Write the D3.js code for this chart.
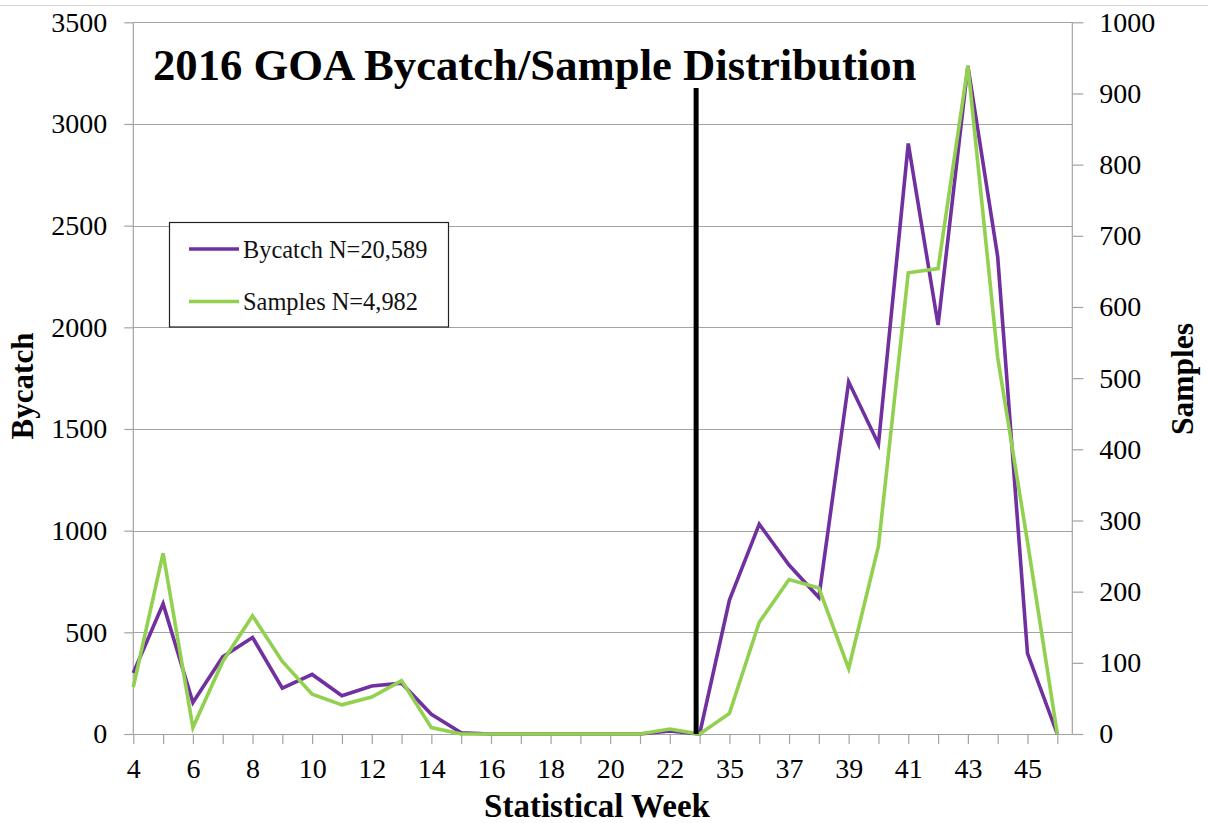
<!DOCTYPE html>
<html>
<head>
<meta charset="utf-8">
<script src="https://cdn.jsdelivr.net/npm/d3@7"></script>
<style>
  html, body { margin: 0; padding: 0; background: #fff; }
  svg { display: block; font-family: "Liberation Serif", "Times New Roman", serif; }
</style>
</head>
<body>
<svg id="chart" width="1208" height="823"></svg>
<script>
// Statistical weeks (the season jumps from week 23 to week 35)
const weeks = ["4","5","6","7","8","9","10","11","12","13","14","15","16","17","18","19","20","21","22","23",
               "35","36","37","38","39","40","41","42","43","44","45","46"];
// Bycatch per week (left axis)
const bycatch = [300, 640, 155, 380, 475, 225, 293, 188, 236, 250, 97, 6, 0, 0, 0, 0, 0, 0, 15, 0,
                 659, 1032, 831, 672, 1732, 1426, 2904, 2011, 3285, 2347, 397, 0];
// Samples per week (right axis)
const samples = [66, 254, 9, 102, 166, 102, 56, 41, 52, 75, 9, 0, 0, 0, 0, 0, 0, 0, 7, 0,
                 29, 157, 217, 205, 92, 264, 648, 654, 939, 529, 270, 0];
const leftTicks = [0, 500, 1000, 1500, 2000, 2500, 3000, 3500];
const rightTicks = [0, 100, 200, 300, 400, 500, 600, 700, 800, 900, 1000];
const seriesNames = ["Bycatch N=20,589", "Samples N=4,982"];
const titleText = "2016 GOA Bycatch/Sample Distribution";
const colors = ["#7030A0", "#92D050"];

const svg = d3.select("#chart");
const plot = { left: 133.3, right: 1072.3, top: 22.3, bottom: 734 };
const gridColor = "#a3a3a3";

const x = d3.scalePoint().domain(weeks).range([133.3, 1057.3]);
const yL = d3.scaleLinear().domain([0, 3500]).range([plot.bottom, plot.top]);
const yR = d3.scaleLinear().domain([0, 1000]).range([plot.bottom, plot.top]);

// thin frame line across the top of the canvas
svg.append("line").attr("x1", 0).attr("x2", 1208).attr("y1", 5.5).attr("y2", 5.5)
  .attr("stroke", "#d4d4d4").attr("stroke-width", 1);

// horizontal gridlines from the bycatch axis
svg.append("g").selectAll("line").data(leftTicks).join("line")
  .attr("x1", plot.left).attr("x2", plot.right)
  .attr("y1", d => Math.round(yL(d)) + 0.5).attr("y2", d => Math.round(yL(d)) + 0.5)
  .attr("stroke", gridColor).attr("stroke-width", 1.2);

// axis lines
svg.append("line").attr("x1", plot.left).attr("x2", plot.left).attr("y1", plot.top).attr("y2", plot.bottom)
  .attr("stroke", gridColor).attr("stroke-width", 1.2);
svg.append("line").attr("x1", plot.right).attr("x2", plot.right).attr("y1", plot.top).attr("y2", plot.bottom)
  .attr("stroke", gridColor).attr("stroke-width", 1.2);

function styleAxis(g) {
  g.select(".domain").remove();
  g.selectAll(".tick line").attr("stroke", gridColor).attr("stroke-width", 1.2);
  g.selectAll(".tick text").attr("fill", "#000").attr("font-size", 28)
    .attr("font-family", "Liberation Serif, Times New Roman, serif");
}

svg.append("g").attr("transform", `translate(${plot.left},0)`)
  .call(d3.axisLeft(yL).tickValues(leftTicks).tickSize(9).tickPadding(17).tickFormat(d3.format("d")))
  .call(styleAxis);

svg.append("g").attr("transform", `translate(${plot.right},0)`)
  .call(d3.axisRight(yR).tickValues(rightTicks).tickSize(11).tickPadding(16).tickFormat(d3.format("d")))
  .call(styleAxis);

svg.append("g").attr("transform", `translate(0,${plot.bottom})`)
  .call(d3.axisBottom(x).tickSize(10).tickPadding(14)
    .tickFormat((d, i) => (i % 2 === 0 ? d : "")))
  .call(styleAxis);

// data lines
const lineL = d3.line().x((d, i) => x(weeks[i])).y(d => yL(d));
const lineR = d3.line().x((d, i) => x(weeks[i])).y(d => yR(d));

svg.append("path").datum(bycatch).attr("d", lineL)
  .attr("fill", "none").attr("stroke", colors[0]).attr("stroke-width", 3.6)
  .attr("stroke-linejoin", "miter").attr("stroke-miterlimit", 4);
svg.append("path").datum(samples).attr("d", lineR)
  .attr("fill", "none").attr("stroke", colors[1]).attr("stroke-width", 3.6)
  .attr("stroke-linejoin", "miter").attr("stroke-miterlimit", 4);

// divider marking the break between week 23 and week 35
svg.append("line")
  .attr("x1", x("23") - 3.5).attr("x2", x("23") - 3.5)
  .attr("y1", 88).attr("y2", plot.bottom)
  .attr("stroke", "#000").attr("stroke-width", 5);

// title
svg.append("text").attr("x", 153).attr("y", 80)
  .attr("font-size", 44.7).attr("font-weight", "bold").attr("fill", "#000")
  .text(titleText);

// axis titles
svg.append("text").attr("transform", "translate(33,386) rotate(-90)")
  .attr("text-anchor", "middle").attr("font-size", 31).attr("font-weight", "bold")
  .text("Bycatch");
svg.append("text").attr("transform", "translate(1193,379) rotate(-90)")
  .attr("text-anchor", "middle").attr("font-size", 31.5).attr("font-weight", "bold")
  .text("Samples");
svg.append("text").attr("x", 597).attr("y", 817)
  .attr("text-anchor", "middle").attr("font-size", 33).attr("font-weight", "bold")
  .text("Statistical Week");

// legend
const legend = svg.append("g");
legend.append("rect").attr("x", 169.5).attr("y", 222.5).attr("width", 279).attr("height", 104.5)
  .attr("fill", "#fff").attr("stroke", "#222").attr("stroke-width", 1.2);
const legendRows = [249, 301.5];
seriesNames.forEach((name, i) => {
  legend.append("line").attr("x1", 189).attr("x2", 239)
    .attr("y1", legendRows[i]).attr("y2", legendRows[i])
    .attr("stroke", colors[i]).attr("stroke-width", 3.6);
  legend.append("text").attr("x", 243).attr("y", legendRows[i] + 8.5)
    .attr("font-size", 24.4).attr("fill", "#111").text(name);
});
</script>
</body>
</html>
